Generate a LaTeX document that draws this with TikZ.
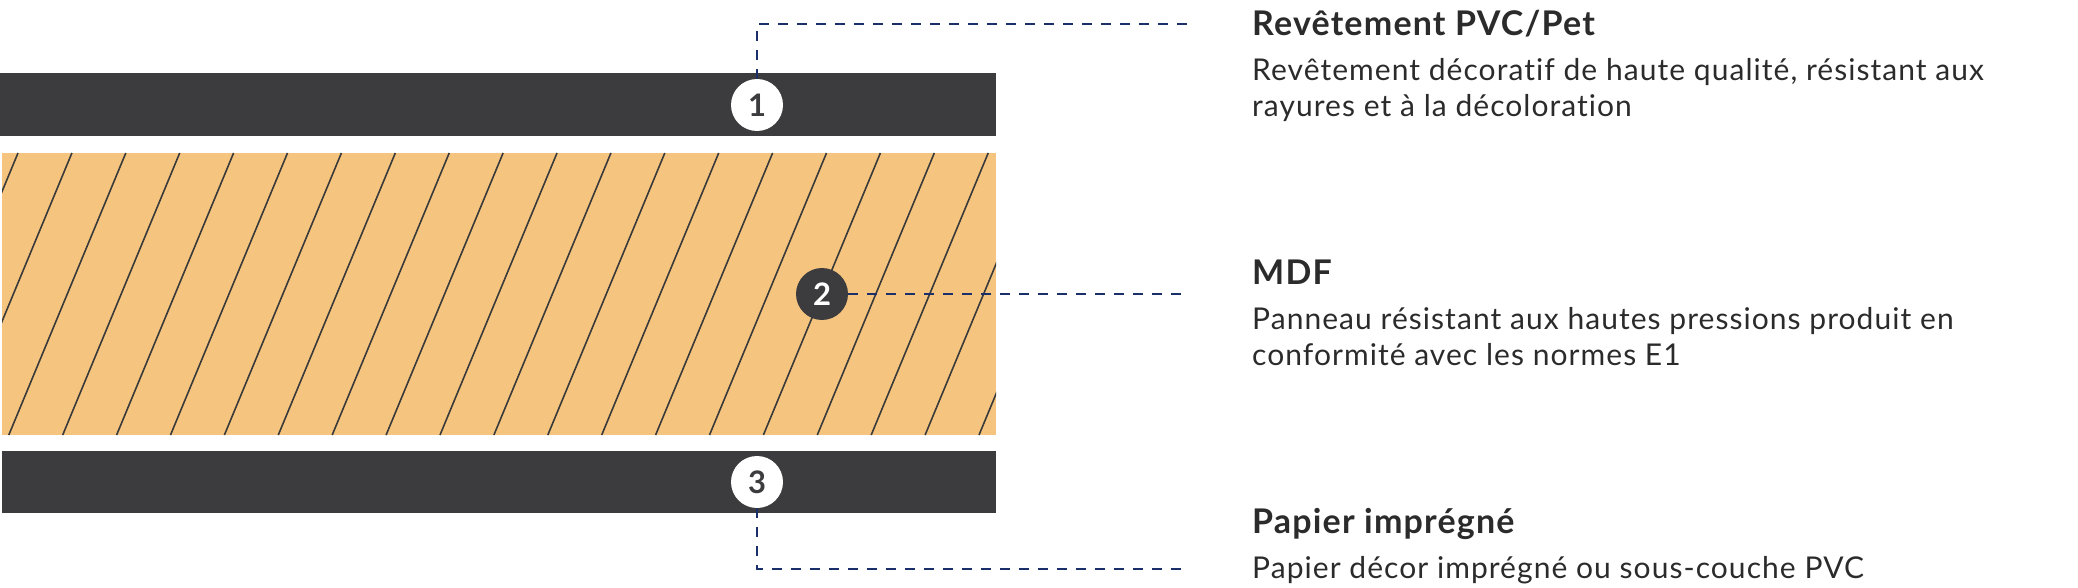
\documentclass[tikz,border=0pt]{standalone}
\usepackage{fontspec}
\setmainfont[Ligatures=NoCommon]{Lato}
\usetikzlibrary{calc}

\definecolor{bardark}{HTML}{3C3C3E}
\definecolor{mdfwood}{HTML}{F5C580}
\definecolor{hatchgray}{HTML}{3A3A3A}
\definecolor{leadblue}{HTML}{1B2F6B}
\definecolor{textdark}{HTML}{2B2B2B}

\tikzset{
  badge/.style={circle, minimum size=52pt, inner sep=0pt, font=\fontsize{31}{31}\selectfont\bfseries},
  leader/.style={draw=leadblue, line width=2pt, dash pattern=on 10pt off 9pt},
  ttl/.style={anchor=base west, inner sep=0pt, text=textdark, font=\fontsize{34}{36}\selectfont\bfseries\addfontfeature{LetterSpace=3.5}},
  dsc/.style={anchor=base west, inner sep=0pt, text=textdark, font=\fontsize{30}{36}\selectfont\addfontfeature{LetterSpace=3.5}},
}

\begin{document}
\begin{tikzpicture}[x=1pt, y=-1pt]
    \useasboundingbox (0,0) rectangle (2078,588);

    % --- Rétegek ---
    \fill[bardark] (0,73) rectangle (996,136);
    \fill[mdfwood] (2,153) rectangle (996,435);
    \begin{scope}
        \clip (2,153) rectangle (996,435);
        \foreach \k in {-1,...,21}
            \draw[hatchgray, line width=1.6pt] ({18+53.9*\k},153) -- ({18+53.9*\k-117},435);
    \end{scope}
    \fill[bardark] (2,451) rectangle (996,513);

    % --- Számok ---
    \node[badge, fill=white, text=bardark] (c1) at (757,105) {1};
    \node[badge, fill=bardark, text=white] (c2) at (822,294) {2};
    \node[badge, fill=white, text=bardark] (c3) at (757,482) {3};

    % --- Vezetővonalak ---
    \coordinate (e1) at (1190,24);
    \coordinate (e2) at (1190,294);
    \coordinate (e3) at (1190,569);
    \draw[leader] (c1.north) |- (e1);
    \draw[leader] (c2.east) -- (e2);
    \draw[leader] (c3.south) |- (e3);

    % --- Feliratok ---
    \node[ttl] (t1) at (1252,36) {Revêtement PVC/Pet};
    \node[dsc] (d1a) at (1252,81) {Revêtement décoratif de haute qualité, résistant aux};
    \node[dsc] (d1b) at (1252,117) {rayures et à la décoloration};

    \node[ttl] (t2) at (1252,284) {MDF};
    \node[dsc] (d2a) at (1252,329) {Panneau résistant aux hautes pressions produit en};
    \node[dsc] (d2b) at (1252,365) {conformité avec les normes E1};

    \node[ttl] (t3) at (1252,533) {Papier imprégné};
    \node[dsc] (d3a) at (1252,578) {Papier décor imprégné ou sous-couche PVC};

\end{tikzpicture}
\end{document}
